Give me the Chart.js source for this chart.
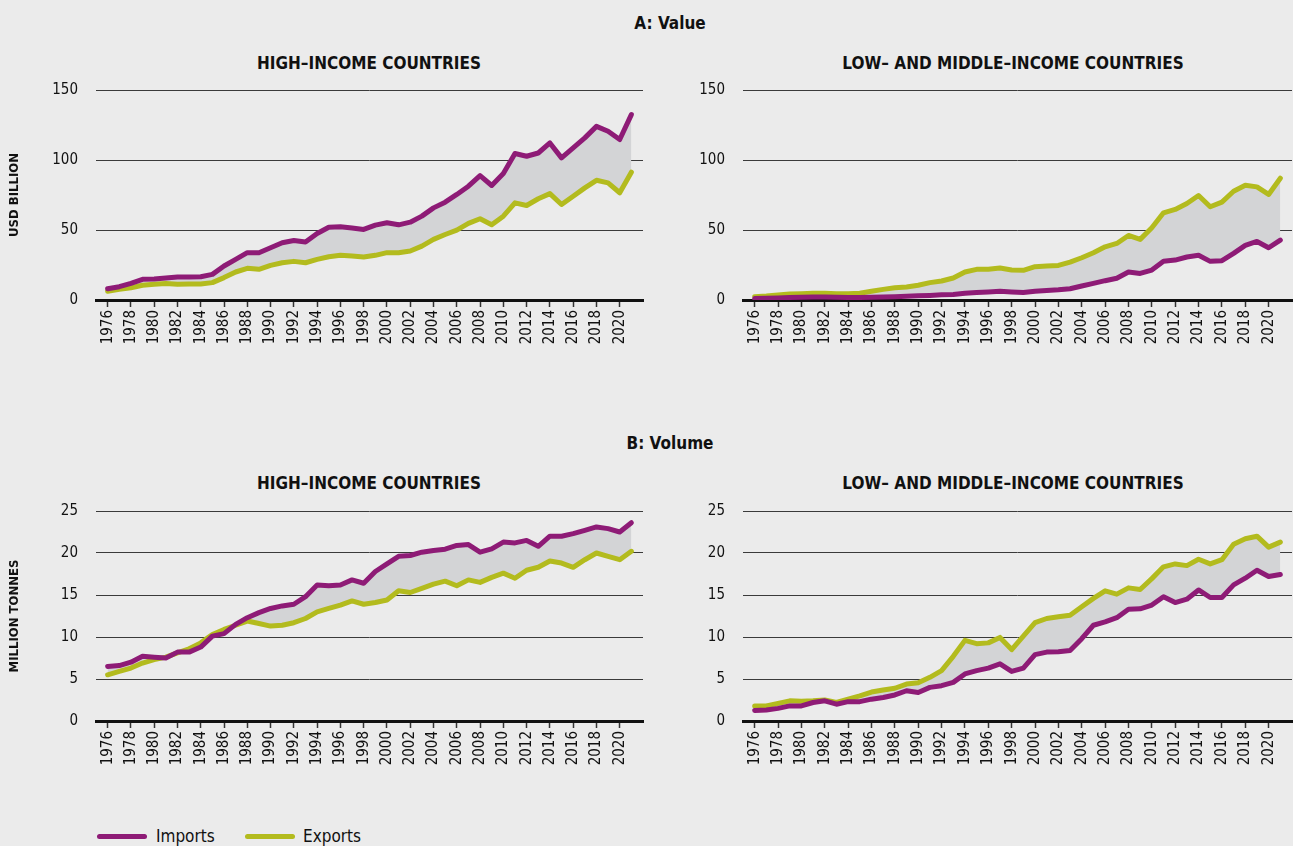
<!DOCTYPE html>
<html>
<head>
<meta charset="utf-8">
<script src="https://cdn.jsdelivr.net/npm/chart.js@4"></script>
<style>
  body { margin: 0; background: #ebebeb; }
  #page { position: relative; width: 1293px; height: 846px; overflow: hidden; background: #ebebeb;
          font-family: 'DejaVu Sans Condensed', 'Liberation Sans', sans-serif; color: #111; }
  .box { position: absolute; }
  .ttl { position: absolute; font-weight: bold; font-size: 17px; white-space: nowrap; transform: translate(-50%, -50%); }
  .leg { position: absolute; top: 836px; font-size: 17px; transform: translateY(-50%); white-space: nowrap; }
  .sw { position: absolute; top: 834px; height: 5px; width: 50px; border-radius: 3px; }
</style>
</head>
<body>
<div id="page">
  <div class="ttl" style="left:670px; top:23px;">A: Value</div>
  <div class="ttl" style="left:369px; top:63px;">HIGH–INCOME COUNTRIES</div>
  <div class="ttl" style="left:1013px; top:63px;">LOW– AND MIDDLE–INCOME COUNTRIES</div>
  <div class="ttl" style="left:670px; top:443px;">B: Volume</div>
  <div class="ttl" style="left:369px; top:483px;">HIGH–INCOME COUNTRIES</div>
  <div class="ttl" style="left:1013px; top:483px;">LOW– AND MIDDLE–INCOME COUNTRIES</div>

  <div class="box" style="left:0; top:80px; width:655px; height:274px;"><canvas id="aHigh"></canvas></div>
  <div class="box" style="left:695px; top:80px; width:598px; height:274px;"><canvas id="aLow"></canvas></div>
  <div class="box" style="left:0; top:501px; width:655px; height:274px;"><canvas id="bHigh"></canvas></div>
  <div class="box" style="left:695px; top:501px; width:598px; height:274px;"><canvas id="bLow"></canvas></div>

  <div class="sw" style="left:97px; background:#8e1b76;"></div>
  <div class="leg" style="left:156px;">Imports</div>
  <div class="sw" style="left:245px; background:#b3bb1e;"></div>
  <div class="leg" style="left:303px;">Exports</div>
</div>
<script>
const years = [1976, 1977, 1978, 1979, 1980, 1981, 1982, 1983, 1984, 1985, 1986, 1987, 1988, 1989, 1990,
  1991, 1992, 1993, 1994, 1995, 1996, 1997, 1998, 1999, 2000, 2001, 2002, 2003, 2004, 2005, 2006, 2007,
  2008, 2009, 2010, 2011, 2012, 2013, 2014, 2015, 2016, 2017, 2018, 2019, 2020, 2021];
const yearTicks = [1976, 1978, 1980, 1982, 1984, 1986, 1988, 1990, 1992, 1994, 1996, 1998, 2000,
  2002, 2004, 2006, 2008, 2010, 2012, 2014, 2016, 2018, 2020];

// A: value, USD billion
const highValueImports = [8, 9.5, 11.9, 14.8, 15, 15.7, 16.4, 16.4, 16.6, 18.3, 24.3, 29, 33.8, 33.8, 37.3,
  40.9, 42.5, 41.4, 47.5, 52, 52.3, 51.4, 50.4, 53.5, 55.2, 53.7, 55.6, 59.9, 65.8, 69.9, 75.4, 81.3,
  88.9, 81.8, 90.3, 104.6, 102.7, 105, 112.2, 101.5, 108.6, 115.8, 124, 120.5, 114.6, 132.4];
const highValueExports = [6.2, 7.6, 8.8, 10.5, 11.2, 11.7, 11.2, 11.4, 11.4, 12.4, 16, 20, 22.6, 21.9, 24.7,
  26.6, 27.6, 26.6, 29, 30.9, 31.9, 31.4, 30.7, 31.9, 33.8, 33.8, 35, 38.5, 43.3, 46.8, 49.9, 54.7,
  58, 53.7, 59.9, 69.4, 67.5, 72.3, 76, 68.2, 74.1, 80.1, 85.5, 83.7, 76.6, 91.3];
const lowValueImports = [1, 1.2, 1.5, 1.8, 2, 2.2, 2.2, 2, 1.8, 1.8, 2, 2.2, 2.4, 2.7, 3,
  3.3, 3.7, 4, 4.8, 5.3, 5.8, 6.2, 5.8, 5.3, 6.2, 6.8, 7.3, 8, 10, 11.9, 13.8, 15.5,
  20, 19, 21.4, 27.6, 28.5, 30.7, 31.9, 27.6, 28.1, 33.3, 39, 41.8, 37.3, 42.8];
const lowValueExports = [2.4, 2.9, 3.6, 4.3, 4.5, 4.8, 4.8, 4.5, 4.5, 4.8, 6.2, 7.6, 8.8, 9.3, 10.5,
  12.4, 13.6, 15.7, 20, 21.9, 21.9, 22.8, 21.4, 21.2, 23.8, 24.2, 24.7, 27.1, 30.2, 33.8, 38, 40.4,
  46.1, 43.3, 51.6, 62.3, 64.7, 68.9, 74.6, 66.6, 69.9, 77.7, 82, 80.8, 75.4, 87];

// B: volume, million tonnes
const highVolumeImports = [6.5, 6.6, 7, 7.7, 7.6, 7.5, 8.2, 8.2, 8.8, 10.1, 10.4, 11.5, 12.3, 12.9, 13.4,
  13.7, 13.9, 14.8, 16.2, 16.1, 16.2, 16.8, 16.4, 17.8, 18.7, 19.6, 19.7, 20.1, 20.3, 20.45, 20.9, 21,
  20.1, 20.5, 21.3, 21.2, 21.5, 20.8, 22, 22, 22.3, 22.7, 23.1, 22.9, 22.5, 23.6];
const highVolumeExports = [5.5, 5.9, 6.3, 6.9, 7.3, 7.6, 8.1, 8.6, 9.3, 10.3, 10.9, 11.4, 11.9, 11.6, 11.3,
  11.4, 11.7, 12.2, 13, 13.4, 13.8, 14.3, 13.9, 14.1, 14.4, 15.5, 15.3, 15.8, 16.3, 16.65, 16.1, 16.8,
  16.5, 17.1, 17.6, 17, 17.95, 18.3, 19.05, 18.8, 18.3, 19.2, 20, 19.6, 19.2, 20.2];
const lowVolumeImports = [1.25, 1.3, 1.5, 1.8, 1.8, 2.2, 2.4, 2, 2.3, 2.3, 2.6, 2.8, 3.1, 3.6, 3.4,
  4, 4.2, 4.6, 5.6, 6, 6.3, 6.8, 5.9, 6.3, 7.9, 8.2, 8.25, 8.4, 9.8, 11.4, 11.8, 12.3,
  13.3, 13.35, 13.8, 14.8, 14.1, 14.5, 15.6, 14.7, 14.7, 16.2, 17, 17.95, 17.2, 17.45];
const lowVolumeExports = [1.8, 1.8, 2.1, 2.4, 2.35, 2.4, 2.5, 2.2, 2.6, 3, 3.45, 3.7, 3.9, 4.4, 4.55,
  5.2, 6, 7.7, 9.6, 9.2, 9.3, 9.95, 8.5, 10.1, 11.7, 12.2, 12.4, 12.6, 13.6, 14.6, 15.5, 15.1,
  15.85, 15.65, 16.95, 18.35, 18.7, 18.5, 19.25, 18.7, 19.2, 21.05, 21.7, 22, 20.7, 21.3];

const IMPORT_COLOR = '#8e1b76';
const EXPORT_COLOR = '#b3bb1e';
const FILL_COLOR = '#d3d4d6';

Chart.defaults.font.family = "'DejaVu Sans Condensed', 'Liberation Sans', sans-serif";
Chart.defaults.color = '#111';

function points(values) {
  return years.map((y, i) => ({ x: y, y: values[i] }));
}

function makeChart(id, imports, exports, yMax, yStep, yTitle, yWidth, padRight) {
  new Chart(document.getElementById(id), {
    type: 'line',
    data: {
      datasets: [{
        label: 'Imports',
        data: points(imports),
        borderColor: IMPORT_COLOR,
        backgroundColor: FILL_COLOR,
        fill: { target: 1, above: FILL_COLOR, below: FILL_COLOR },
        borderWidth: 5,
        pointRadius: 0,
        tension: 0,
        borderJoinStyle: 'round',
        borderCapStyle: 'round'
      }, {
        label: 'Exports',
        data: points(exports),
        borderColor: EXPORT_COLOR,
        fill: false,
        borderWidth: 5,
        pointRadius: 0,
        tension: 0,
        borderJoinStyle: 'round',
        borderCapStyle: 'round'
      }]
    },
    options: {
      animation: false,
      responsive: true,
      maintainAspectRatio: false,
      layout: { padding: { top: 10, right: padRight, left: 0, bottom: 0 } },
      plugins: {
        legend: { display: false },
        tooltip: { enabled: false },
        filler: { drawTime: 'beforeDatasetsDraw' }
      },
      scales: {
        x: {
          type: 'linear',
          min: 1975,
          max: 2022,
          afterBuildTicks: scale => { scale.ticks = yearTicks.map(v => ({ value: v })); },
          afterFit: scale => {
            scale.height = 54;
            scale.paddingLeft = 0;
            scale.paddingRight = 0;
          },
          ticks: {
            autoSkip: false,
            minRotation: 90,
            maxRotation: 90,
            padding: 3,
            font: { size: 15 },
            callback: v => String(v)
          },
          grid: { drawOnChartArea: false, drawTicks: true, tickLength: 7, tickColor: '#333', tickWidth: 1.5 },
          border: { display: true, color: '#111', width: 3 }
        },
        y: {
          min: 0,
          max: yMax,
          afterFit: scale => {
            scale.width = yWidth;
            scale.paddingTop = 0;
            scale.paddingBottom = 0;
          },
          ticks: { stepSize: yStep, padding: 18, font: { size: 15 } },
          grid: { color: '#3a3a3a', lineWidth: 1, drawTicks: false },
          border: { display: false },
          title: {
            display: !!yTitle,
            text: yTitle,
            font: { size: 13, weight: 'bold' },
            color: '#111',
            padding: { top: 7, bottom: 0 }
          }
        }
      }
    }
  });
}

makeChart('aHigh', highValueImports, highValueExports, 150, 50, 'USD BILLION', 96, 12);
makeChart('aLow', lowValueImports, lowValueExports, 150, 50, '', 48, 1);
makeChart('bHigh', highVolumeImports, highVolumeExports, 25, 5, 'MILLION TONNES', 96, 12);
makeChart('bLow', lowVolumeImports, lowVolumeExports, 25, 5, '', 48, 1);
</script>
</body>
</html>
